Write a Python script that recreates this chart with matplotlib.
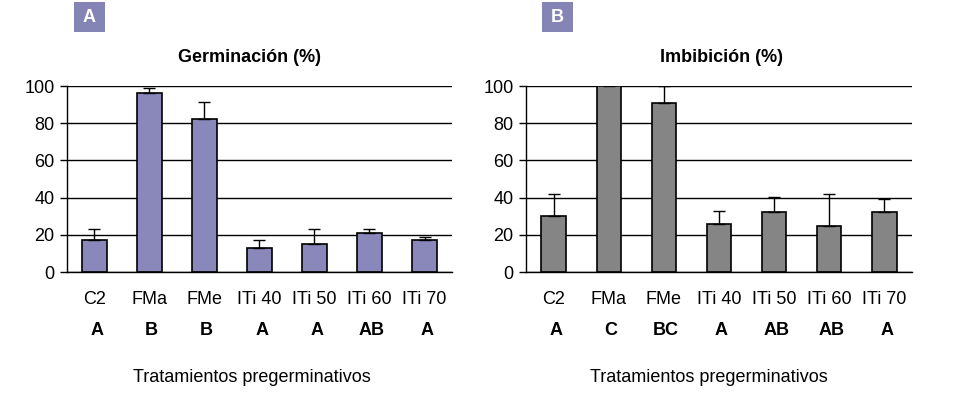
import matplotlib
matplotlib.use("Agg")
import matplotlib.pyplot as plt
import matplotlib.transforms as mtrans
import numpy as np

plt.rcParams['font.family'] = ['Liberation Sans', 'DejaVu Sans']

# datos
categorias = ["C2", "FMa", "FMe", "ITi 40", "ITi 50", "ITi 60", "ITi 70"]
germ = [17, 96, 82, 13, 15, 21, 17]
germ_err = [6, 3, 9.5, 4, 8, 2, 2]
germ_letras = ["A", "B", "B", "A", "A", "AB", "A"]
imb = [30, 100, 91, 26, 32, 25, 32]
imb_err = [12, 3, 9, 7, 8.5, 17, 7.5]
imb_letras = ["A", "C", "BC", "A", "AB", "AB", "A"]

paneles = [
    {'pos': [0.0702, 0.3096, 0.4036, 0.4721], 'titulo': "Germinación (%)",
     'y': germ, 'err': germ_err, 'letras': germ_letras, 'color': '#8A88BA',
     'letra': 'A', 'box_x': 74, 'tit_x': 250, 'xl_x': 252},
    {'pos': [0.5514, 0.3096, 0.4046, 0.4721], 'titulo': "Imbibición (%)",
     'y': imb, 'err': imb_err, 'letras': imb_letras, 'color': '#858585',
     'letra': 'B', 'box_x': 542, 'tit_x': 722, 'xl_x': 709},
]

W, H = 954, 394
fs = 13
fig = plt.figure(figsize=(W / 100, H / 100), dpi=100)

for p in paneles:
    ax = fig.add_axes(p['pos'])
    x = np.arange(len(categorias))
    ax.bar(x, p['y'], width=0.44, color=p['color'], edgecolor='black',
           linewidth=1.2, zorder=2)
    ax.errorbar(x, p['y'], yerr=[np.zeros(len(x)), p['err']], fmt='none',
                ecolor='black', elinewidth=1, capsize=4, capthick=1, zorder=3)
    ax.set_xlim(-0.5, len(x) - 0.5)
    ax.set_ylim(0, 100)
    ax.set_yticks([0, 20, 40, 60, 80, 100])
    ax.set_xticks(x)
    ax.set_xticklabels(categorias)
    ax.tick_params(axis='x', length=0, pad=14, labelsize=fs)
    ax.tick_params(axis='y', length=5, width=1, pad=4, labelsize=fs)
    ax.grid(axis='y', color='black', linewidth=1, zorder=0)
    ax.set_axisbelow(True)
    for s in ['top', 'right']:
        ax.spines[s].set_visible(False)
    ax.spines['left'].set_linewidth(1)
    ax.spines['bottom'].set_linewidth(1)

    fig.text(p['tit_x'] / W, 1 - 57 / H, p['titulo'], ha='center', va='center',
             fontsize=fs, fontweight='bold')

    # letras de significación bajo cada tratamiento
    trans = mtrans.blended_transform_factory(ax.transData, ax.transAxes)
    for xi, l in zip(x, p['letras']):
        ax.text(xi + 0.04, -0.315, l, transform=trans, ha='center', va='center',
                fontsize=fs, fontweight='bold')
    fig.text(p['xl_x'] / W, 1 - 377 / H, "Tratamientos pregerminativos",
             ha='center', va='center', fontsize=fs)

    # recuadro con la letra del panel
    bx = p['box_x']
    fig.patches.append(plt.Rectangle((bx / W, 1 - 32 / H), 31 / W, 30 / H,
                                     transform=fig.transFigure,
                                     facecolor='#8585B5', edgecolor='none'))
    fig.text((bx + 15.5) / W, 1 - 17 / H, p['letra'], ha='center', va='center',
             color='white', fontsize=13, fontweight='bold')

fig.savefig("out.png", dpi=100)
